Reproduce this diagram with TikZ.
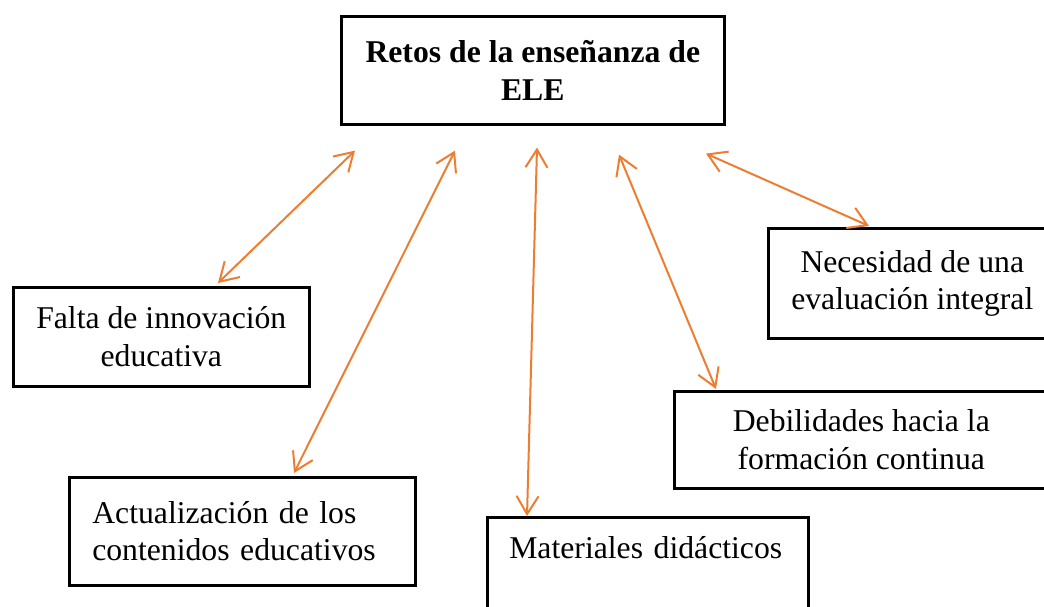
\documentclass[tikz,border=0pt]{standalone}
\usepackage{fontspec}
\setmainfont{Liberation Serif}
\usepackage{tikz}
\usetikzlibrary{arrows.meta}

\definecolor{naranja}{HTML}{ED7D31}

\begin{document}
\begin{tikzpicture}[x=0.5pt, y=-0.5pt,
  caja/.style={draw, line width=1.3pt, anchor=north west, align=center,
    font=\fontsize{15.85}{18.75}\selectfont, inner sep=4pt},
  izq/.style={caja, align=left, inner xsep=11.5pt},
  flecha/.style={{Straight Barb[length=9pt, width=11pt]}-{Straight Barb[length=9pt, width=11pt]},
    draw=naranja, line width=1pt},
]
  \useasboundingbox (0,0) rectangle (1044,606);
  \clip (0,0) rectangle (1044,606);

  % Central box
  \node[caja, font=\fontsize{15.85}{18.75}\selectfont\bfseries,
    minimum width=191.5pt, minimum height=54pt] (retos) at (340,15)
    {Retos de la enseñanza de\\ELE};

  % Challenges
  \node[caja, minimum width=148pt, minimum height=49.5pt] (falta) at (12,286)
    {Falta de innovación\\educativa};
  \node[izq, text width=150pt, minimum height=54pt] (actual) at (68,476)
    {Actualización de los\\contenidos educativos};
  \node[izq, inner xsep=11pt, text width=138.5pt, minimum height=55pt] (mater) at (486,516)
    {Materiales didácticos\\\strut};
  \node[caja, minimum width=187pt, minimum height=48.5pt] (debil) at (673,390)
    {Debilidades hacia la\\formación continua};
  \node[caja, minimum width=144pt, minimum height=55pt] (neces) at (767,227)
    {Necesidad de una\\evaluación integral};

  % Links
  \draw[flecha] ([shift={(15,25)}]retos.south west) -- ([shift={(206,-3)}]falta.north west);
  \draw[flecha] ([shift={(115,25)}]retos.south west) -- ([shift={(226,-3)}]actual.north west);
  \draw[flecha] ([shift={(197,22)}]retos.south west) -- ([shift={(41,0)}]mater.north west);
  \draw[flecha] ([shift={(279,29)}]retos.south west) -- ([shift={(43,-1)}]debil.north west);
  \draw[flecha] ([shift={(366,28)}]retos.south west) -- ([shift={(102,-1)}]neces.north west);
\end{tikzpicture}
\end{document}
